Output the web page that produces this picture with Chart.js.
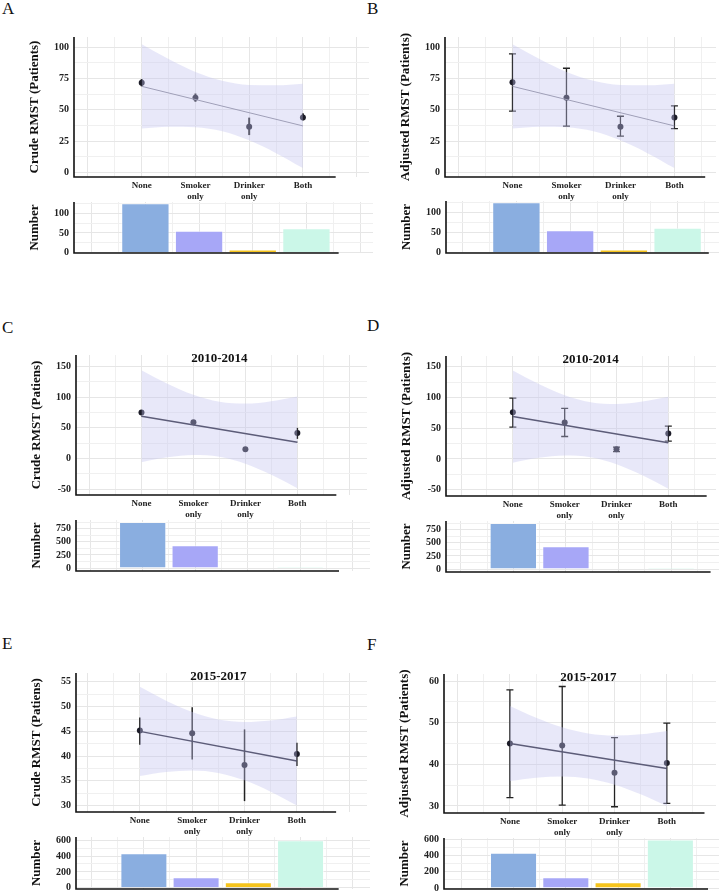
<!DOCTYPE html>
<html>
<head>
<meta charset="utf-8">
<script src="https://cdn.jsdelivr.net/npm/chart.js@4.4.0/dist/chart.umd.min.js"></script>
<style>
  body { margin: 0; background: #fff; width: 719px; height: 896px; position: relative; overflow: hidden;
         font-family: 'Liberation Serif', 'Times New Roman', serif; }
  canvas { position: absolute; }
  .tag { position: absolute; font-size: 17px; line-height: 1; color: #111; }
</style>
</head>
<body>
<div class="tag" style="left:2px;top:0px">A</div>
<div class="tag" style="left:367px;top:0px">B</div>
<div class="tag" style="left:2px;top:319px">C</div>
<div class="tag" style="left:367px;top:317px">D</div>
<div class="tag" style="left:2px;top:635px">E</div>
<div class="tag" style="left:367px;top:636px">F</div>

<canvas id="topA"></canvas><canvas id="barA"></canvas>
<canvas id="topB"></canvas><canvas id="barB"></canvas>
<canvas id="topC"></canvas><canvas id="barC"></canvas>
<canvas id="topD"></canvas><canvas id="barD"></canvas>
<canvas id="topE"></canvas><canvas id="barE"></canvas>
<canvas id="topF"></canvas><canvas id="barF"></canvas>

<script>
const categories = ['None', 'Smoker only', 'Drinker only', 'Both'];
const catPos = [1, 2, 3, 4];
const bandPos = [1, 1.5, 2, 2.5, 3, 3.5, 4];

// A, B - all patients
const rmstAllCrude = [71.6, 59.6, 36.5, 43.8];
const lowAllCrude = [68.7, 56.4, 29.9, 41.7];
const highAllCrude = [74.5, 63.0, 43.8, 47.2];
const rmstAllAdj = [71.9, 59.6, 36.5, 43.9];
const lowAllAdj = [49.0, 37.0, 29.1, 35.1];
const highAllAdj = [94.5, 83.1, 44.9, 53.2];
const fitAll = [68.7, 37.2];
const bandUpAll = [102.3, 90.5, 80.2, 73.1, 69.7, 69.5, 70.8];
const bandLowAll = [35.1, 36.5, 36.2, 32.9, 25.7, 15.5, 3.6];
const countAll = [126, 56, 8, 62];
const yTicksAll = [0, 25, 50, 75, 100];
const yTicksNumAll = [0, 50, 100];

// C, D - 2010-2014
const rmst1014Crude = [75.0, 59.3, 15.0, 41.5];
const low1014Crude = [73.5, 58.0, 13.8, 32.0];
const high1014Crude = [76.5, 60.6, 16.2, 50.0];
const rmst1014Adj = [76.0, 59.5, 15.6, 41.5];
const low1014Adj = [52.0, 36.6, 11.8, 29.2];
const high1014Adj = [99.0, 82.5, 19.4, 53.5];
const fit1014 = [69.0, 26.4];
const bandUp1014 = [144.0, 122.0, 103.9, 92.5, 89.7, 93.6, 101.4];
const bandLow1014 = [-6.0, 1.8, 5.7, 2.9, -8.5, -26.6, -48.6];
const count1014 = [875, 436, 12, 30];
const yTicks1014 = [-50, 0, 50, 100, 150];
const yTicksNum1014 = [0, 250, 500, 750];

// E, F - 2015-2017
const rmst1517Crude = [45.2, 44.6, 38.2, 40.4];
const low1517Crude = [42.3, 39.3, 30.9, 38.0];
const high1517Crude = [47.8, 49.9, 45.4, 42.7];
const rmst1517Adj = [45.0, 44.5, 38.0, 40.3];
const low1517Adj = [32.0, 30.2, 29.8, 30.6];
const high1517Adj = [57.9, 58.7, 46.4, 49.9];
const fit1517 = [45.0, 39.0];
const bandUp1517 = [54.0, 51.2, 48.9, 47.4, 46.9, 47.2, 48.0];
const bandLow1517 = [36.0, 36.8, 37.1, 36.6, 35.1, 32.8, 30.0];
const count1517 = [436, 133, 70, 600];
const yTicksCrude1517 = [30, 35, 40, 45, 50, 55];
const yTicksAdj1517 = [30, 40, 50, 60];
const yTicksNum1517 = [0, 200, 400, 600];

const barColors = ['#8aaee0', '#a7a7f7', '#f6c41c', '#cbf7e8'];
const FONT = "'Liberation Serif', 'Times New Roman', serif";
Chart.defaults.font.family = FONT;

const Y_W = 47;     // room left of the axis for ticks + title
const PAD_TOP = 10;

// error bars under the band so the ribbon tints them like the original
const errorBars = {
    id: 'errorBars',
    beforeDatasetsDraw(chart, args, opts) {
        if (!opts.low) return;
        const {ctx, scales: {x, y}} = chart;
        ctx.save();
        ctx.strokeStyle = '#222';
        ctx.lineWidth = opts.width;
        for (let i = 0; i < opts.low.length; i++) {
            const px = x.getPixelForValue(catPos[i]);
            const y0 = y.getPixelForValue(opts.low[i]);
            const y1 = y.getPixelForValue(opts.high[i]);
            ctx.beginPath();
            ctx.moveTo(px, y0); ctx.lineTo(px, y1);
            if (opts.cap) {
                ctx.moveTo(px - opts.cap, y0); ctx.lineTo(px + opts.cap, y0);
                ctx.moveTo(px - opts.cap, y1); ctx.lineTo(px + opts.cap, y1);
            }
            ctx.stroke();
        }
        ctx.restore();
    }
};

// black axis lines (x axis stops short of the grid) and the in-panel title
const axisLines = {
    id: 'axisLines',
    afterDraw(chart, args, opts) {
        const {ctx, chartArea: a, scales: {x}} = chart;
        ctx.save();
        ctx.strokeStyle = '#111';
        ctx.lineWidth = 1.6;
        ctx.beginPath();
        ctx.moveTo(a.left, a.top);
        ctx.lineTo(a.left, a.bottom);
        ctx.lineTo(x.getPixelForValue(opts.end), a.bottom);
        ctx.stroke();
        if (opts.title) {
            ctx.fillStyle = '#111';
            ctx.font = 'bold 13px ' + FONT;
            ctx.textAlign = 'center';
            ctx.textBaseline = 'middle';
            ctx.fillText(opts.title, x.getPixelForValue(2.5), a.top + 4);
        }
        ctx.restore();
    }
};

function gridTicks(min, max, step){
    const t = [];
    for (let v = Math.ceil(min / step) * step; v <= max + 1e-9; v += step) {
        t.push({value: +v.toFixed(6)});
    }
    return t;
}

function yScale(box, labels, title){
    const step = (labels[1] - labels[0]) / 2;
    return {
        type: 'linear', min: box.yMin, max: box.yMax, bounds: 'data',
        afterBuildTicks: s => { s.ticks = gridTicks(box.yMin, box.yMax, step); },
        afterFit: s => { s.width = Y_W; },
        ticks: {
            autoSkip: false, padding: 5, color: '#222',
            font: {size: 10, weight: 'bold'},
            callback: v => labels.includes(v) ? String(v) : ''
        },
        grid: {
            drawTicks: false,
            color: c => (c.tick && labels.includes(c.tick.value)) ? '#e6e6e6' : '#f0f0f0'
        },
        border: {display: false},
        title: {display: true, text: title, color: '#111', padding: 0,
                font: {size: 13, weight: 'bold'}}
    };
}

function xScale(box, step, height, showLabels){
    return {
        type: 'linear', min: box.xMin, max: box.xMax, bounds: 'data', offset: false,
        afterBuildTicks: s => { s.ticks = gridTicks(box.xMin, box.xMax, step); },
        afterFit: s => { s.height = height; },
        ticks: {
            display: showLabels, autoSkip: false, maxRotation: 0, padding: 3,
            color: '#222', font: {size: 9, weight: 'bold'},
            callback: v => {
                const i = catPos.indexOf(v);
                return i < 0 ? '' : categories[i].split(' ');
            }
        },
        grid: {
            drawTicks: false, offset: false,
            color: c => (c.tick && Number.isInteger(c.tick.value)) ? '#e6e6e6' : '#f0f0f0'
        },
        border: {display: false}
    };
}

function placeCanvas(id, box, xH){
    const el = document.getElementById(id);
    const left = Math.round(box.L - Y_W);
    const top = Math.round(box.T - PAD_TOP);
    el.width = Math.round(box.R - left);
    el.height = Math.round(box.B - top + xH);
    el.style.left = left + 'px';
    el.style.top = top + 'px';
    return el;
}

function toXY(xs, ys){
    return xs.map((x, i) => ({x: x, y: ys[i]}));
}

function rmstChart(id, box, d){
    const X_H = 28;
    const canvas = placeCanvas(id, box, X_H);
    const band = 'rgba(195, 195, 240, 0.38)';
    new Chart(canvas, {
        type: 'scatter',
        data: {
            datasets: [
                {
                    type: 'line', data: toXY(bandPos, d.bandUp), fill: '+1',
                    backgroundColor: band, borderColor: 'rgba(0,0,0,0)', borderWidth: 0,
                    pointRadius: 0, cubicInterpolationMode: 'monotone', order: 0
                },
                {
                    type: 'line', data: toXY(bandPos, d.bandLow), fill: false,
                    borderColor: 'rgba(0,0,0,0)', borderWidth: 0,
                    pointRadius: 0, cubicInterpolationMode: 'monotone', order: 0
                },
                {
                    type: 'line', data: toXY([1, 4], d.fit), fill: false,
                    borderColor: d.fitColor, borderWidth: d.fitWidth, pointRadius: 0, order: 1
                },
                {
                    data: toXY(catPos, d.rmst), pointRadius: 3, pointHoverRadius: 3,
                    backgroundColor: '#1c1c28', borderWidth: 0, order: 2
                }
            ]
        },
        options: {
            responsive: false,
            animation: false,
            layout: {padding: {top: PAD_TOP, left: 0, right: 0, bottom: 0}},
            scales: {
                x: xScale(box, 0.5, X_H, true),
                y: yScale(box, d.yTicks, d.title)
            },
            plugins: {
                legend: {display: false},
                tooltip: {enabled: false},
                errorBars: {low: d.low, high: d.high, cap: d.cap, width: d.errWidth},
                axisLines: {end: box.xEnd, title: d.period}
            }
        },
        plugins: [errorBars, axisLines]
    });
}

function countChart(id, box, counts, yTicks){
    const X_H = 8;
    const canvas = placeCanvas(id, box, X_H);
    const minor = xScale(box, 0.5, 0, false);
    minor.afterBuildTicks = s => {
        s.ticks = gridTicks(box.xMin, box.xMax, 0.5).filter(t => !Number.isInteger(t.value));
    };
    new Chart(canvas, {
        type: 'bar',
        data: {
            datasets: [{
                data: toXY(catPos, counts),
                backgroundColor: barColors,
                borderColor: 'rgba(255,255,255,0.55)',
                borderWidth: 1,
                barPercentage: 0.9,
                categoryPercentage: 1.0
            }]
        },
        options: {
            responsive: false,
            animation: false,
            layout: {padding: {top: PAD_TOP, left: 0, right: 0, bottom: 0}},
            scales: {
                x: xScale(box, 1, X_H, false),
                x2: minor,
                y: yScale(box, yTicks, 'Number')
            },
            plugins: {
                legend: {display: false},
                tooltip: {enabled: false},
                axisLines: {end: box.xEnd}
            }
        },
        plugins: [axisLines]
    });
}

// panel geometry (chart area in page pixels, axis ranges)
const boxes = {
    topA: {L: 74, T: 36, B: 176.7, R: 372, xMin: -0.26, xMax: 5.23, xEnd: 4.61, yMin: -3.5, yMax: 108},
    topB: {L: 445, T: 36, B: 176.7, R: 719, xMin: -0.25, xMax: 4.77, xEnd: 4.57, yMin: -3.5, yMax: 108},
    topC: {L: 76, T: 354, B: 495, R: 370, xMin: -0.26, xMax: 5.34, xEnd: 4.75, yMin: -59.7, yMax: 169},
    topD: {L: 446, T: 355, B: 495.7, R: 719, xMin: -0.29, xMax: 4.92, xEnd: 4.74, yMin: -60.4, yMax: 167.8},
    topE: {L: 76, T: 671.7, B: 812.3, R: 370, xMin: -0.22, xMax: 5.34, xEnd: 4.75, yMin: 28.7, yMax: 56.8},
    topF: {L: 444.3, T: 672.7, B: 813.3, R: 719, xMin: -0.26, xMax: 4.94, xEnd: 4.72, yMin: 28.3, yMax: 61.7},
    barA: {L: 74, T: 201, B: 256, R: 373, xMin: -0.33, xMax: 5.24, xEnd: 4.6, yMin: -1, yMax: 129},
    barB: {L: 445.7, T: 200, B: 256, R: 719, xMin: -0.31, xMax: 4.77, xEnd: 4.58, yMin: -1, yMax: 129},
    barC: {L: 76, T: 519.3, B: 574.3, R: 370, xMin: -0.27, xMax: 5.33, xEnd: 4.74, yMin: -55, yMax: 915},
    barD: {L: 446, T: 520, B: 575, R: 719, xMin: -0.28, xMax: 4.91, xEnd: 4.75, yMin: -55, yMax: 915},
    barE: {L: 76, T: 836, B: 891.7, R: 370, xMin: -0.30, xMax: 5.33, xEnd: 4.73, yMin: -15, yMax: 640},
    barF: {L: 444.3, T: 837.3, B: 892, R: 719, xMin: -0.33, xMax: 4.93, xEnd: 4.72, yMin: -12, yMax: 618}
};

const lightFit = {fitColor: '#8a8a96', fitWidth: 1};
const darkFit = {fitColor: '#1e1e30', fitWidth: 1.5};

rmstChart('topA', boxes.topA, Object.assign({
    rmst: rmstAllCrude, low: lowAllCrude, high: highAllCrude, cap: 0, errWidth: 2,
    fit: fitAll, bandUp: bandUpAll, bandLow: bandLowAll,
    yTicks: yTicksAll, title: 'Crude RMST (Patients)'
}, lightFit));
rmstChart('topB', boxes.topB, Object.assign({
    rmst: rmstAllAdj, low: lowAllAdj, high: highAllAdj, cap: 3.5, errWidth: 1.3,
    fit: fitAll, bandUp: bandUpAll, bandLow: bandLowAll,
    yTicks: yTicksAll, title: 'Adjusted RMST (Patients)'
}, lightFit));
rmstChart('topC', boxes.topC, Object.assign({
    rmst: rmst1014Crude, low: low1014Crude, high: high1014Crude, cap: 0, errWidth: 1.5,
    fit: fit1014, bandUp: bandUp1014, bandLow: bandLow1014,
    yTicks: yTicks1014, title: 'Crude RMST (Patiens)', period: '2010-2014'
}, darkFit));
rmstChart('topD', boxes.topD, Object.assign({
    rmst: rmst1014Adj, low: low1014Adj, high: high1014Adj, cap: 3.5, errWidth: 1.3,
    fit: fit1014, bandUp: bandUp1014, bandLow: bandLow1014,
    yTicks: yTicks1014, title: 'Adjusted RMST (Patients)', period: '2010-2014'
}, darkFit));
rmstChart('topE', boxes.topE, Object.assign({
    rmst: rmst1517Crude, low: low1517Crude, high: high1517Crude, cap: 0, errWidth: 1.5,
    fit: fit1517, bandUp: bandUp1517, bandLow: bandLow1517,
    yTicks: yTicksCrude1517, title: 'Crude RMST (Patiens)', period: '2015-2017'
}, darkFit));
rmstChart('topF', boxes.topF, Object.assign({
    rmst: rmst1517Adj, low: low1517Adj, high: high1517Adj, cap: 3.5, errWidth: 1.3,
    fit: fit1517, bandUp: bandUp1517, bandLow: bandLow1517,
    yTicks: yTicksAdj1517, title: 'Adjusted RMST (Patients)', period: '2015-2017'
}, darkFit));

countChart('barA', boxes.barA, countAll, yTicksNumAll);
countChart('barB', boxes.barB, countAll, yTicksNumAll);
countChart('barC', boxes.barC, count1014, yTicksNum1014);
countChart('barD', boxes.barD, count1014, yTicksNum1014);
countChart('barE', boxes.barE, count1517, yTicksNum1517);
countChart('barF', boxes.barF, count1517, yTicksNum1517);
</script>
</body>
</html>
